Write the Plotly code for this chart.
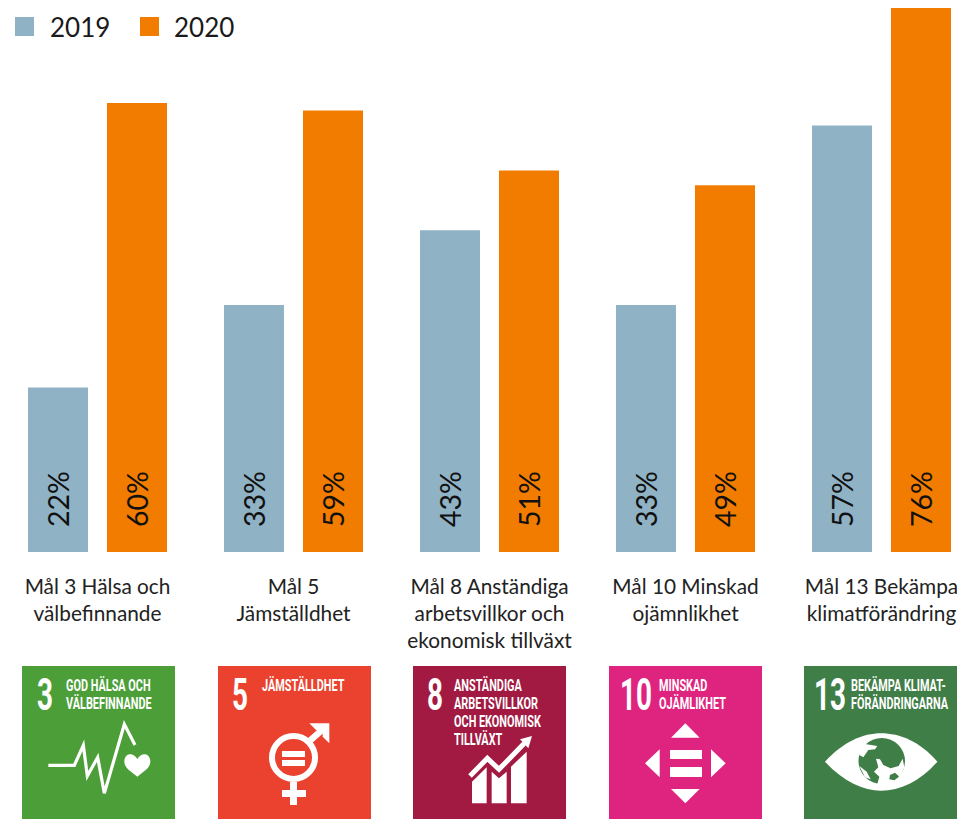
import plotly.graph_objects as go

W, H = 957, 837

categories = ["Mål 3 Hälsa och<br>välbefinnande", "Mål 5<br>Jämställdhet",
              "Mål 8 Anständiga<br>arbetsvillkor och<br>ekonomisk tillväxt",
              "Mål 10 Minskad<br>ojämnlikhet", "Mål 13 Bekämpa<br>klimatförändring"]
values_2019 = [22, 33, 43, 33, 57]
values_2020 = [60, 59, 51, 49, 76]
series_names = ["2019", "2020"]
BLUE, ORANGE = "#8fb2c5", "#f17c00"
TEXT_FONT = "Lato"
TILE_FONT = "Roboto"

goal_numbers = ["3", "5", "8", "10", "13"]
goal_titles = [["GOD HÄLSA OCH", "VÄLBEFINNANDE"], ["JÄMSTÄLLDHET"],
               ["ANSTÄNDIGA", "ARBETSVILLKOR", "OCH EKONOMISK", "TILLVÄXT"],
               ["MINSKAD", "OJÄMLIKHET"], ["BEKÄMPA KLIMAT-", "FÖRÄNDRINGARNA"]]
goal_colors = ["#4c9f38", "#ea422e", "#a21a42", "#df2480", "#3f7e46"]
icon_left = [22, 218, 413, 609, 804]
number_left = [36, 231, 426, 619, 813]
title_left = [65, 261, 453, 658, 850]


def px(x):
    return x / W


def py(y):
    return 1 - y / H


def path(points, ox=0, oy=0, close=True, s=3):
    out = ""
    for i, (a, b) in enumerate(points):
        out += ("M" if i == 0 else "L") + f"{px(ox + a / s):.5f},{py(oy + b / s):.5f}"
    return out + ("Z" if close else "")


def curve(cmds, ox, oy, s=3):
    out = ""
    for c, pts in cmds:
        out += c + " ".join(f"{px(ox + a / s):.5f},{py(oy + b / s):.5f}" for a, b in pts)
    return out + "Z"


shapes, ann = [], []


def fill(d, color="white"):
    shapes.append(dict(type="path", xref="paper", yref="paper", path=d,
                       fillcolor=color, line=dict(width=0)))


def stroke(d, w, color="white"):
    shapes.append(dict(type="path", xref="paper", yref="paper", path=d,
                       line=dict(color=color, width=w)))


def rect(x0, y0, x1, y1, color="white"):
    shapes.append(dict(type="rect", xref="paper", yref="paper", x0=px(x0), x1=px(x1),
                       y0=py(y1), y1=py(y0), fillcolor=color, line=dict(width=0)))


def text(x, y, s, size, font=TEXT_FONT, color="white", anchor="left", weight=None):
    f = dict(family=font, size=size, color=color)
    if weight:
        f["weight"] = weight
    ann.append(dict(xref="paper", yref="paper", x=px(x), y=py(y), text=s, showarrow=False,
                    xanchor=anchor, yanchor="middle", borderpad=0, font=f))


# Legend
rect(15, 17, 34, 36, BLUE)
rect(140, 17, 159, 36, ORANGE)
text(49, 27, series_names[0], 26, color="#1a1a1a")
text(173, 27, series_names[1], 26, color="#1a1a1a")

# SDG tiles
for i in range(5):
    rect(icon_left[i], 666, icon_left[i] + 153, 819, goal_colors[i])
    text(number_left[i], 694, goal_numbers[i], 45, TILE_FONT, weight=700)
    for j, line in enumerate(goal_titles[i]):
        text(title_left[i], 685 + j * 18.3, line, 16, TILE_FONT, weight=700)

# Tile 1: pulse and heart
stroke(path([(100, 316), (178, 316), (205, 256), (217, 348), (248, 292), (268, 400),
             (328, 193), (360, 255)], 15, 660, close=False), 3.2)
fill(curve([("M", [(367, 297)]), ("C", [(355, 275), (328, 278), (328, 305)]),
            ("C", [(328, 325), (350, 335), (367, 350)]),
            ("C", [(384, 335), (406, 325), (406, 305)]),
            ("C", [(406, 278), (379, 275), (367, 297)])], 15, 660))

# Tile 2: gender symbol
shapes.append(dict(type="circle", xref="paper", yref="paper", x0=px(272), x1=px(315),
                   y0=py(779), y1=py(736), line=dict(color="white", width=6)))
rect(282, 751, 305, 757)
rect(282, 760, 305, 766)
rect(290, 782, 297, 805)
rect(282, 790, 306, 797)
stroke(path([(930, 272), (968, 238)], 0, 650, close=False), 6.5)
fill(path([(928, 220), (988, 220), (988, 280), (968, 260), (968, 240), (948, 240)], 0, 650))

# Tile 3: rising bars and arrow
for poly in ([(201, 430), (201, 365), (245, 322), (245, 430)],
             [(260, 430), (260, 335), (282, 355), (305, 335), (305, 430)],
             [(318, 430), (318, 320), (365, 275), (365, 430)]):
    fill(path(poly, 405, 660))
stroke(path([(195, 348), (247, 295), (282, 328), (358, 250)], 405, 660, close=False), 5)
fill(path([(345, 238), (381, 228), (370, 265)], 405, 660))

# Tile 4: four triangles and equals sign
for poly in ([(573, 263), (616, 220), (659, 263)], [(573, 417), (659, 417), (616, 460)],
             [(539, 298), (495, 340), (539, 382)], [(693, 298), (737, 340), (693, 382)]):
    fill(path(poly, 480, 650))
rect(670, 750, 702, 759)
rect(670, 767, 702, 777)

# Tile 5: eye with globe
fill(curve([("M", [(75, 305)]), ("C", [(130, 245), (190, 220), (243, 220)]),
            ("C", [(300, 220), (360, 245), (412, 305)]),
            ("C", [(360, 365), (300, 392), (243, 392)]),
            ("C", [(190, 392), (130, 365), (75, 305)])], 800, 660))
shapes.append(dict(type="circle", xref="paper", yref="paper", x0=px(858.5), x1=px(905),
                   y0=py(784), y1=py(738), fillcolor=goal_colors[4], line=dict(width=0)))
for poly in ([(180, 262), (195, 252), (232, 258), (225, 268), (205, 270), (190, 292), (178, 285)],
             [(228, 296), (240, 298), (250, 315), (272, 325), (296, 318), (308, 296), (313, 322),
              (305, 340), (300, 352), (285, 338), (270, 345), (268, 358), (290, 362), (270, 372),
              (232, 372), (238, 350), (222, 335), (235, 322)],
             [(178, 318), (200, 335), (212, 358), (195, 352)]):
    fill(path(poly, 800, 660))

fig = go.Figure()
for name, vals, col in ((series_names[0], values_2019, BLUE), (series_names[1], values_2020, ORANGE)):
    fig.add_trace(go.Bar(name=name, x=categories, y=vals, marker=dict(color=col, line=dict(width=0)),
                         text=["\u00a0" * 3 + f"{v}%" for v in vals], textposition="inside",
                         insidetextanchor="start", textangle=-90, constraintext="none",
                         insidetextfont=dict(family=TEXT_FONT, size=28.5, color="#111111"),
                         cliponaxis=True))

fig.update_layout(
    width=W, height=H, margin=dict(l=0, r=0, t=0, b=0), showlegend=False,
    barmode="group", bargap=0.194, bargroupgap=0.24,
    plot_bgcolor="white", paper_bgcolor="white",
    xaxis=dict(domain=[0, 1], range=[-97.5 / 196, (W - 97.5) / 196], type="category",
               categoryorder="array", categoryarray=categories, showgrid=False, zeroline=False,
               showline=False, ticks="", ticklabelstandoff=20,
               tickfont=dict(family=TEXT_FONT, size=20.8, color="#222222")),
    yaxis=dict(domain=[py(552), py(8)], range=[0, 72.7], visible=False),
    shapes=shapes, annotations=ann,
)

# The tile captions use a condensed poster face: squeeze the real text horizontally.
post = """
document.body.style.margin='0';
document.querySelectorAll('.annotation-text').forEach(function(t){
  if ((t.style.fontFamily||'').indexOf('Roboto')<0) return;
  var b=t.getBBox();
  var k=parseFloat(t.style.fontSize)>30?0.62:0.68;
  t.setAttribute('transform','translate('+b.x+',0) scale('+k+',1) translate('+(-b.x)+',0)');
});
"""
fig.write_html("out.html", post_script=post, config=dict(displayModeBar=False))
